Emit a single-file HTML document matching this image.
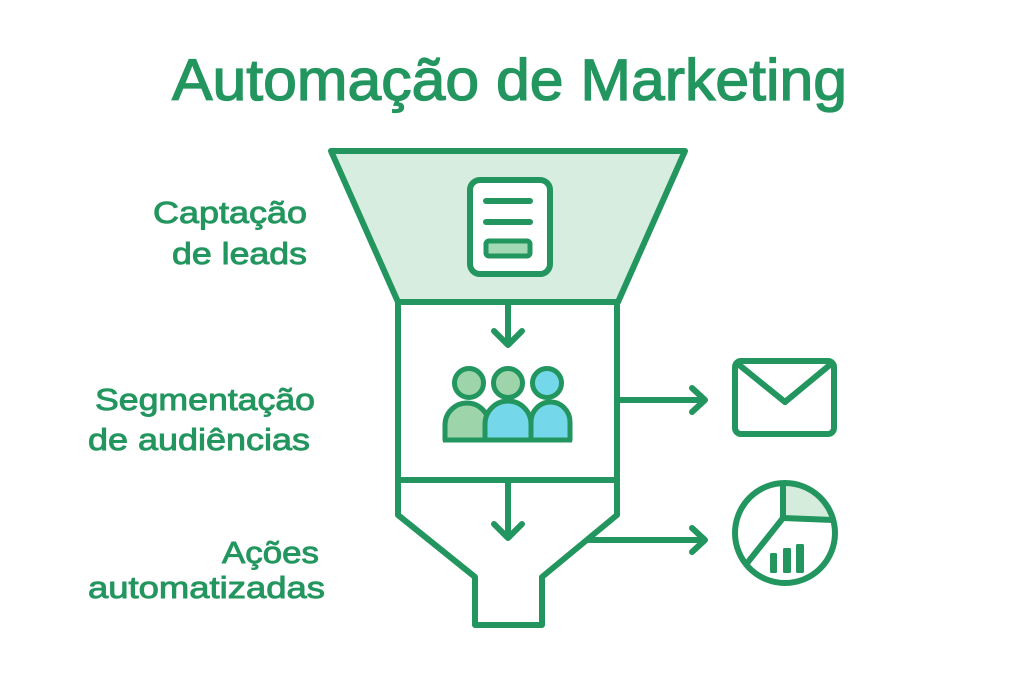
<!DOCTYPE html>
<html>
<head>
<meta charset="utf-8">
<style>
  html,body{margin:0;padding:0;background:#fff;}
  svg{display:block;}
  text{font-family:"Liberation Sans","DejaVu Sans",sans-serif;fill:#22965e;stroke:#22965e;}
</style>
</head>
<body>
<svg width="1024" height="683" viewBox="0 0 1024 683" xmlns="http://www.w3.org/2000/svg">
  <rect width="1024" height="683" fill="#ffffff"/>

  <!-- Title -->
  <text x="172" y="100" font-size="58" stroke-width="1.3" textLength="675" lengthAdjust="spacingAndGlyphs">Automação de Marketing</text>

  <!-- Labels -->
  <text x="153" y="223" font-size="31" stroke-width="0.9" textLength="154" lengthAdjust="spacingAndGlyphs">Captação</text>
  <text x="172" y="264" font-size="31" stroke-width="0.9" textLength="135" lengthAdjust="spacingAndGlyphs">de leads</text>
  <text x="95" y="410" font-size="31" stroke-width="0.9" textLength="220" lengthAdjust="spacingAndGlyphs">Segmentação</text>
  <text x="88" y="450" font-size="31" stroke-width="0.9" textLength="222" lengthAdjust="spacingAndGlyphs">de audiências</text>
  <text x="222" y="563" font-size="31" stroke-width="0.9" textLength="97" lengthAdjust="spacingAndGlyphs">Ações</text>
  <text x="88" y="598" font-size="31" stroke-width="0.9" textLength="237" lengthAdjust="spacingAndGlyphs">automatizadas</text>

  <g fill="none" stroke="#22965e" stroke-width="6" stroke-linejoin="round" stroke-linecap="round">
    <!-- Trapezoid -->
    <polygon points="331,151 685,151 618,302 398,302" fill="#d6ede0"/>
    <!-- Lower funnel outline -->
    <path d="M398,302 V515 L475,577 V625 H542 V577 L617,515 V302"/>
    <line x1="398" y1="480" x2="617" y2="480"/>

    <!-- Arrows down -->
    <line x1="508" y1="302" x2="508" y2="344"/>
    <polyline points="494,331 508,345 522,331"/>
    <line x1="508" y1="480" x2="508" y2="537"/>
    <polyline points="494,524 508,538 522,524"/>

    <!-- Arrows right -->
    <line x1="618" y1="400" x2="704" y2="400"/>
    <polyline points="692,388 705,400 692,412"/>
    <line x1="589" y1="540" x2="704" y2="540"/>
    <polyline points="692,528 705,540 692,552"/>

    <!-- Document icon -->
    <rect x="470" y="180" width="80" height="94" rx="10" fill="#ffffff"/>
    <line x1="486" y1="201" x2="530" y2="201"/>
    <line x1="486" y1="222" x2="530" y2="222"/>
    <rect x="486" y="241" width="44" height="15" rx="3" fill="#a3d9b5" stroke-width="5"/>

    <!-- Envelope -->
    <rect x="735" y="361" width="99" height="73" rx="6"/>
    <polyline points="738,364 785,402 831,364"/>

    <!-- Pie chart -->
    <path d="M783,518 L783,483 A50,50 0 0 1 833,520 Z" fill="#d5ecdc" stroke="none"/>
    <circle cx="785" cy="533" r="50"/>
    <line x1="783" y1="518" x2="783" y2="484"/>
    <line x1="783" y1="518" x2="833" y2="520"/>
    <line x1="783" y1="518" x2="748" y2="562"/>
  </g>

  <!-- Bars -->
  <g fill="#22965e">
    <rect x="770" y="553" width="7" height="20" rx="1.5"/>
    <rect x="783" y="548" width="8" height="25" rx="1.5"/>
    <rect x="796" y="544" width="8" height="29" rx="1.5"/>
  </g>

  <!-- People -->
  <g stroke="#22965e" stroke-width="5" stroke-linejoin="round">
    <path d="M445,440 V425 A22,22 0 0 1 489,425 V440 Z" fill="#9dd4aa"/>
    <path d="M531,440 V422 A19.5,20 0 0 1 570,422 V440 Z" fill="#74d8ea"/>
    <path d="M485,440 V424 A23,23 0 0 1 531,424 V440 Z" fill="#74d8ea"/>
    <line x1="443" y1="440" x2="572" y2="440"/>
    <circle cx="469" cy="383" r="14.5" fill="#9dd4aa"/>
    <circle cx="508" cy="383" r="14.5" fill="#9dd4aa"/>
    <circle cx="547" cy="383" r="14.5" fill="#74d8ea"/>
  </g>
</svg>
</body>
</html>
